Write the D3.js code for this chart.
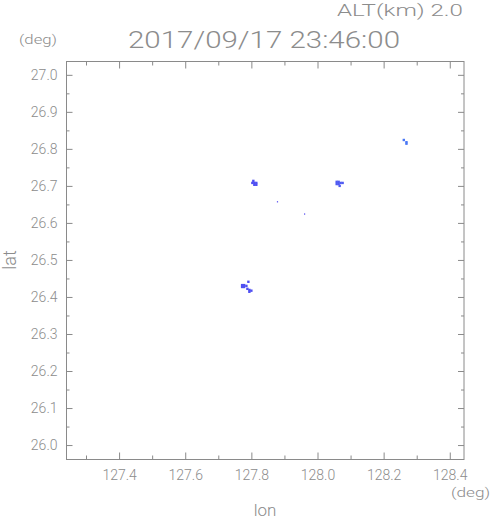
<!DOCTYPE html>
<html>
<head>
<meta charset="utf-8">
<script src="https://cdn.jsdelivr.net/npm/d3@7"></script>
<style>
  body { margin: 0; background: #fff; }
  text { font-family: Roboto, "Liberation Sans", Arial, sans-serif; font-weight: 300; fill: #8c8c8c; }
</style>
</head>
<body>
<div id="plot"></div>
<script>
  const w = 491;
  const h = 521;

  // data: echo cells [lon, lat]
  const cellsA = [[127.806, 26.7135], [127.803, 26.708], [127.809, 26.708], [127.815, 26.708], [127.809, 26.703], [127.815, 26.703]];
  const cellsB = [[128.058, 26.711], [128.064, 26.711], [128.058, 26.705], [128.064, 26.705], [128.070, 26.708], [128.076, 26.708], [128.067, 26.700]];
  const cellsC = [[127.772, 26.432], [127.778, 26.432], [127.772, 26.427], [127.778, 26.427], [127.785, 26.430],
                  [127.788, 26.422], [127.794, 26.419], [127.794, 26.414], [127.800, 26.417], [127.791, 26.441]];
  const cellsD = [[128.261, 26.824], [128.269, 26.818], [128.269, 26.814]];
  const dots = [[127.879, 26.657], [127.961, 26.624]];

  const xMajor = [127.4, 127.6, 127.8, 128.0, 128.2, 128.4];
  const xMinor = [127.3, 127.5, 127.7, 127.9, 128.1, 128.3];
  const yMajor = [26.0, 26.1, 26.2, 26.3, 26.4, 26.5, 26.6, 26.7, 26.8, 26.9, 27.0];
  const yMinor = [26.05, 26.15, 26.25, 26.35, 26.45, 26.55, 26.65, 26.75, 26.85, 26.95];

  const title = "2017/09/17 23:46:00";
  const altLabel = "ALT(km) 2.0";

  const box = {left: 66.5, right: 464, top: 61.5, bottom: 459.5};

  const svg = d3.select("div#plot")
      .append("svg")
      .attr("width", w)
      .attr("height", h);

  const x = d3.scaleLinear()
      .domain([127.241, 128.443])
      .range([box.left, box.right]);

  const y = d3.scaleLinear()
      .domain([25.961, 27.036])
      .range([box.bottom, box.top]);

  // frame
  svg.append("rect")
      .attr("x", box.left)
      .attr("y", box.top)
      .attr("width", box.right - box.left)
      .attr("height", box.bottom - box.top)
      .attr("fill", "none")
      .attr("stroke", "#8a8a8a")
      .attr("stroke-width", 1);

  function addAxis(axis, tx, ty) {
    const g = svg.append("g")
        .attr("transform", `translate(${tx},${ty})`)
        .call(axis);
    g.select(".domain").remove();
    g.selectAll("line").attr("stroke", "#8a8a8a");
    g.selectAll("text")
        .attr("fill", "#8c8c8c")
        .style("font-size", "14px")
        .style("font-weight", "300")
        .style("font-family", "Roboto, Liberation Sans, Arial, sans-serif");
    return g;
  }

  // bottom / top
  addAxis(d3.axisBottom(x).tickValues(xMajor).tickSize(-7).tickPadding(11).tickFormat(d3.format(".1f")), 0, box.bottom);
  addAxis(d3.axisBottom(x).tickValues(xMinor).tickSize(-4).tickFormat(""), 0, box.bottom);
  addAxis(d3.axisTop(x).tickValues(xMajor).tickSize(-7).tickFormat(""), 0, box.top);
  addAxis(d3.axisTop(x).tickValues(xMinor).tickSize(-4).tickFormat(""), 0, box.top);

  // left / right
  addAxis(d3.axisLeft(y).tickValues(yMajor).tickSize(-6).tickPadding(9).tickFormat(d3.format(".1f")), box.left, 0);
  addAxis(d3.axisLeft(y).tickValues(yMinor).tickSize(-3).tickFormat(""), box.left, 0);
  addAxis(d3.axisRight(y).tickValues(yMajor).tickSize(-6).tickFormat(""), box.right, 0);
  addAxis(d3.axisRight(y).tickValues(yMinor).tickSize(-3).tickFormat(""), box.right, 0);

  // echo cells
  const cs = 2.4;
  const groups = [
    {data: cellsA, color: "#4f4ff2"},
    {data: cellsB, color: "#4f5af2"},
    {data: cellsC, color: "#4f4ff2"},
    {data: cellsD, color: "#4a78f5"}
  ];
  groups.forEach(gr => {
    svg.append("g").selectAll("rect")
      .data(gr.data)
      .enter().append("rect")
        .attr("x", d => x(d[0]) - cs / 2)
        .attr("y", d => y(d[1]) - cs / 2)
        .attr("width", cs)
        .attr("height", cs)
        .attr("fill", gr.color);
  });

  svg.append("g").selectAll("rect")
    .data(dots)
    .enter().append("rect")
      .attr("x", d => x(d[0]) - 0.6)
      .attr("y", d => y(d[1]) - 0.6)
      .attr("width", 1.2)
      .attr("height", 1.2)
      .attr("fill", "#4a40f0");

  // texts
  svg.append("text")
      .attr("x", 128).attr("y", 48)
      .attr("textLength", 272)
      .attr("lengthAdjust", "spacingAndGlyphs")
      .style("font-size", "24px")
      .text(title);

  svg.append("text")
      .attr("x", 337).attr("y", 16)
      .attr("textLength", 126)
      .attr("lengthAdjust", "spacingAndGlyphs")
      .style("font-size", "17px")
      .text(altLabel);

  svg.append("text")
      .attr("x", 19).attr("y", 44)
      .attr("textLength", 38)
      .attr("lengthAdjust", "spacingAndGlyphs")
      .style("font-size", "12px")
      .text("(deg)");

  svg.append("text")
      .attr("x", 451).attr("y", 497)
      .attr("textLength", 39)
      .attr("lengthAdjust", "spacingAndGlyphs")
      .style("font-size", "12px")
      .text("(deg)");

  svg.append("text")
      .attr("x", 265).attr("y", 516)
      .attr("text-anchor", "middle")
      .style("font-size", "17px")
      .text("lon");

  svg.append("text")
      .attr("transform", "translate(16,260) rotate(-90)")
      .attr("text-anchor", "middle")
      .style("font-size", "18px")
      .text("lat");
</script>
</body>
</html>
